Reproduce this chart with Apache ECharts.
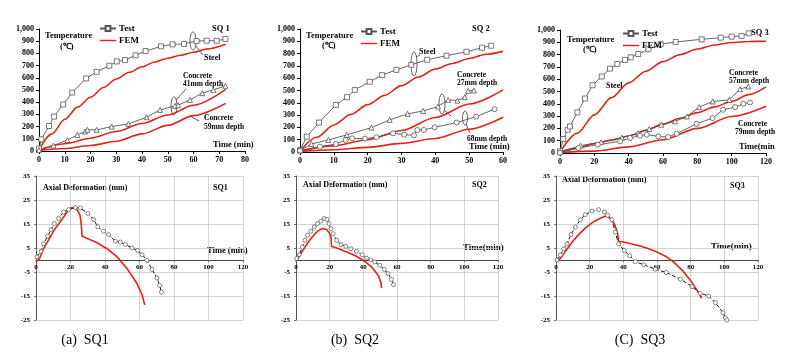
<!DOCTYPE html>
<html>
<head>
<meta charset="utf-8">
<script src="https://cdn.jsdelivr.net/npm/echarts@6/dist/echarts.min.js"></script>
<style>
  html, body { margin: 0; padding: 0; background: #fff; }
  #chart { width: 800px; height: 354px; }
</style>
</head>
<body>
<div id="chart"></div>
<script>
// ---- temperature curves, [time (min), temperature (C)] ----
var sq1SteelTest = [[0,20],[0.9,96],[3.9,205],[5.8,282],[9.4,381],[12.9,479],[18.3,595],[22.4,649],[27.3,699],[30.2,734],[33.4,745],[37.5,784],[41.4,819],[47.4,858],[51.9,874],[56.3,878],[61.2,901],[65.1,904],[69,904],[72.4,918]];
var sq1SteelFem = [[0,10],[5,140],[10,260],[15,360],[20,440],[25,520],[30,590],[35,645],[40,690],[45,730],[50,760],[55,785],[60,810],[65,835],[72.5,875]];
var sq1C41Test = [[0,8],[5.6,44],[11,90],[14.9,132],[17.9,159],[18.8,173],[22.4,173],[28.2,200],[34.7,222],[41.8,277],[47,337],[52.8,370],[54,375],[58.6,419],[63.4,474],[67.7,501],[72.4,534]];
var sq1C41Fem = [[0,10],[10,60],[20,105],[30,160],[40,225],[50,295],[60,375],[72.5,505]];
var sq1C59Fem = [[0,5],[10,20],[20,45],[30,80],[40,140],[50,210],[60,290],[72.5,390]];

var sq2SteelTest = [[0,16],[2,125],[5.6,239],[10.6,383],[13.9,446],[16.2,505],[20.6,571],[24.3,625],[28.5,668],[32.9,709],[37.6,750],[43.3,783],[49.2,815],[53.8,848],[56.5,864]];
var sq2SteelFem = [[0,10],[5,120],[10,220],[15,305],[20,385],[25,460],[30,540],[35,610],[40,675],[45,720],[50,760],[55,795],[60,818]];
var sq2C27Test = [[0,11],[3.4,65],[8.4,98],[13.8,139],[21.1,198],[26.5,261],[31.8,310],[36.4,334],[40.8,370],[43.8,424],[46.5,418],[48.7,446],[49.7,497],[51.4,500]];
var sq2C27Fem = [[0,8],[10,50],[20,100],[30,175],[40,280],[50,390],[60,505]];
var sq2C68Test = [[0,11],[5.9,43],[10.6,65],[13.5,98],[15.4,111],[19.2,109],[22.6,120],[27.5,152],[30.8,141],[33.7,136],[34.7,179],[36.6,179],[39.8,201],[46.3,239],[52.1,288],[57.5,348]];
var sq2C68Fem = [[0,5],[10,18],[20,38],[30,70],[40,110],[50,185],[60,283]];

var sq3SteelTest = [[0,14],[1.9,114],[4.5,189],[5.8,216],[10.1,330],[14.6,443],[19,551],[24.3,622],[29.1,686],[33.4,724],[37.9,757],[41.2,778],[45.6,805],[51.5,843],[58.6,884],[67.4,903],[82.5,924],[93.6,938],[100,946],[105.8,951],[109.9,973]];
var sq3SteelFem = [[0,10],[10,160],[20,310],[30,450],[40,570],[50,665],[60,743],[70,800],[80,846],[90,878],[100,898],[110,907],[120,908]];
var sq3C57Test = [[0,5],[12,60],[24,88],[36,125],[45.6,162],[52,195],[59,230],[67,257],[74,297],[81,373],[89,419],[98.6,432],[104.9,519],[109.7,541]];
var sq3C57Fem = [[0,8],[10,40],[20,76],[30,105],[40,138],[50,185],[60,235],[70,282],[80,328],[90,375],[100,420],[110,475],[120,537]];
var sq3C79Test = [[0,3],[10.7,40],[22,68],[35,95],[40.8,122],[46.6,141],[50.5,149],[57.3,135],[63,130],[68,157],[79.6,238],[88.9,284],[95,351],[102,373],[106.8,400],[110.7,411]];
var sq3C79Fem = [[0,3],[20,15],[40,50],[60,108],[80,200],[100,297],[120,380]];

// ---- axial deformation curves, [time (min), deformation (mm)] ----
var sq1DefTest = [[0.6,1.3],[2.9,3.6],[4.4,6.8],[6.8,10],[8.7,12.6],[10.6,15.2],[13.1,17.3],[16,20],[18.9,21],[22.8,21.9],[25.7,21.7],[30,19.4],[33.4,16.9],[35.8,13.8],[39.2,12],[42.1,10.6],[46,7.8],[48.9,7.5],[51.8,6.5],[55.7,5],[58.9,4],[61.5,2.2],[64.3,-0.1],[67.2,-3.9],[70.1,-7.5],[71.7,-10.6],[72.7,-13.4]];
var sq1DefFem = [[0,-0.8],[2,0.5],[4.4,4.7],[8.3,9.6],[11,13],[14.1,15.9],[18,20],[20.3,21.7],[22.5,21.8],[24,20.8],[25.5,18.7],[26.3,14.5],[26.7,9.9],[30,8.9],[35.4,7.2],[41.2,4.7],[47,1.3],[52.8,-3.6],[58.6,-9.9],[61.5,-14.5],[63,-18.7]];
var sq2DefTest = [[0.4,0.6],[2,2.2],[3.8,5.4],[5.3,8.2],[6.9,10.3],[8.9,12],[10.9,13.8],[12.8,15.2],[14.8,16.2],[16.8,17.3],[18.4,16.9],[19.6,15.2],[20.8,13.1],[22.1,11],[24.1,8.2],[26.7,6.4],[29.6,5.7],[32.6,4.7],[35.9,3.6],[39.3,2.2],[41.9,0.8],[44.5,0.1],[46.8,-0.8],[49.8,-2.2],[52.4,-3.9],[54.7,-5.7],[56.7,-8.1],[57.9,-10.3]];
var sq2DefFem = [[0,-0.8],[1.8,1.3],[4.5,4.5],[7.3,7.5],[11.3,11],[14,12.6],[16.2,13.1],[18.2,12.7],[19.8,11.2],[20.8,9.6],[21.1,5.7],[25,4.8],[29,3.6],[35,1.9],[39.9,-0.1],[44.9,-2.9],[48.8,-6.4],[50.5,-9.5],[50.8,-11.7]];
var sq3DefTest = [[0.6,0],[2.6,2.1],[4.6,4.6],[6.5,6.7],[8.9,10.6],[11.5,13.7],[14.5,16.8],[17.4,18.9],[21.4,20.4],[25.3,21],[28.7,20],[30.7,18.6],[33.3,16.8],[35.2,11.6],[37.2,6.7],[40.6,3.9],[43.8,1.8],[47.1,-0.7],[52.1,-2],[59,-3.8],[65.5,-5.2],[73.9,-8],[80.8,-11.1],[85.7,-13.9],[90.7,-15],[94.7,-17.8],[99.2,-22],[100.6,-24.1],[101.5,-25]];
var sq3DefFem = [[0,-1],[3,1],[6,4],[10,7.8],[14,11],[18,13.7],[22,15.8],[26,17.3],[29,18.2],[31,18.1],[33,17],[35,14.5],[36.5,11.5],[37.2,7.8],[40,7.5],[45,6.7],[50,5.8],[55,4.7],[60,3.3],[65,1.6],[70,-0.9],[75,-4.3],[80,-8.6],[83,-11.8],[85.5,-14.5],[86.5,-16]];

// tick labels
var tempTicks = [0,100,200,300,400,500,600,700,800,900,1000];
var defTicks = [-25,-15,-5,5,15,25,35];

var FONT = 'Liberation Serif';
var RED = '#e2231a';

function txt(x, y, s, size, weight, align) {
    return {
        type: 'text', x: x, y: y, silent: true,
        style: { text: s, fill: '#000', align: align || 'left', verticalAlign: 'middle',
                 font: (weight || 'bold') + ' ' + (size || 8) + 'px "' + FONT + '"' }
    };
}
function ell(cx, cy, rx, ry) {
    return { type: 'ellipse', silent: true, shape: { cx: cx, cy: cy, rx: rx, ry: ry },
             style: { fill: 'none', stroke: '#333', lineWidth: 0.8 } };
}
function seg(x1, y1, x2, y2) {
    return { type: 'line', silent: true, shape: { x1: x1, y1: y1, x2: x2, y2: y2 },
             style: { stroke: '#333', lineWidth: 0.8 } };
}

function testLine(name, data, symbol, idx) {
    return {
        name: name, type: 'line', data: data, xAxisIndex: idx, yAxisIndex: idx,
        symbol: symbol, symbolSize: 5, showAllSymbol: true,
        lineStyle: { color: '#555', width: 0.9 },
        itemStyle: { color: '#fff', borderColor: '#555', borderWidth: 0.8 },
        z: 3
    };
}
function femLine(name, data, idx) {
    return {
        name: name, type: 'line', data: data, xAxisIndex: idx, yAxisIndex: idx,
        symbol: 'none', smooth: 0.3, smoothMonotone: 'x',
        lineStyle: { color: RED, width: 1.6 }, itemStyle: { color: RED }, z: 2
    };
}
function defTest(name, data, idx) {
    return {
        name: name, type: 'line', data: data, xAxisIndex: idx, yAxisIndex: idx,
        symbol: 'circle', symbolSize: 4, showAllSymbol: true,
        lineStyle: { color: '#111', width: 1, type: [4, 2] },
        itemStyle: { color: '#fff', borderColor: '#666', borderWidth: 0.8 }, z: 3
    };
}
function defFem(name, data, idx) {
    return {
        name: name, type: 'line', data: data, xAxisIndex: idx, yAxisIndex: idx,
        symbol: 'none', lineStyle: { color: RED, width: 1.6 }, itemStyle: { color: RED }, z: 2
    };
}

var labelStyle = { fontFamily: FONT, fontWeight: 'bold', fontSize: 8, color: '#000' };

var grids = [
    { left: 39, top: 29, width: 206, height: 122 },
    { left: 300, top: 29, width: 203, height: 123 },
    { left: 560, top: 30, width: 206, height: 123 },
    { left: 36, top: 176, width: 207, height: 144 },
    { left: 296, top: 176, width: 202, height: 144 },
    { left: 556, top: 176, width: 202, height: 144 }
];
grids.forEach(function (g) { g.outerBoundsMode = 'none'; g.containLabel = false; });

var topMax = [80, 60, 120];
var topInt = [10, 10, 20];

var xAxes = [];
var yAxes = [];
for (var i = 0; i < 3; i++) {
    xAxes.push({
        type: 'value', gridIndex: i, min: 0, max: topMax[i], interval: topInt[i],
        axisLine: { show: true, onZero: false, lineStyle: { color: '#000', width: 1 } },
        axisTick: { show: true, length: 3, lineStyle: { color: '#000' } },
        axisLabel: Object.assign({ margin: 5 }, labelStyle),
        splitLine: { show: false }
    });
    yAxes.push({
        type: 'value', gridIndex: i, min: 0, max: 1000, interval: 100,
        axisLine: { show: true, lineStyle: { color: '#000', width: 1 } },
        axisTick: { show: true, length: 3, lineStyle: { color: '#000' } },
        axisLabel: Object.assign({ margin: 5, customValues: tempTicks,
            formatter: function (v) { return v.toLocaleString('en-US'); } }, labelStyle),
        splitLine: { show: false }
    });
}
// deformation x axes: the axis line and labels sit on the 0 mm level
// (35 of the 60 mm range below the top -> 60 px above the grid bottom)
for (var j = 0; j < 3; j++) {
    xAxes.push({
        type: 'value', gridIndex: 3 + j, min: 0, max: 120, interval: 20,
        position: 'bottom', offset: -60,
        axisLine: { show: true, onZero: false, lineStyle: { color: '#444', width: 1 } },
        axisTick: { show: true, length: 2, lineStyle: { color: '#666' } },
        axisLabel: Object.assign({ margin: 4 }, labelStyle, { fontSize: 7 }),
        splitLine: { show: true, lineStyle: { color: '#c8c8c8', width: 0.8 } }
    });
}
for (var k = 0; k < 3; k++) {
    yAxes.push({
        type: 'value', gridIndex: 3 + k, min: -25, max: 35,
        axisLine: { show: true, onZero: false, lineStyle: { color: '#555', width: 1 } },
        axisTick: { show: true, length: 2, customValues: defTicks, lineStyle: { color: '#777' } },
        axisLabel: Object.assign({ margin: 6, customValues: defTicks }, labelStyle, { fontSize: 7 }),
        splitLine: { show: false }
    });
}
// helper axes that only carry the horizontal grid lines (every 10 mm from -25)
for (var m = 0; m < 3; m++) {
    yAxes.push({
        type: 'value', gridIndex: 3 + m, min: 0, max: 60, interval: 10, position: 'right',
        axisLine: { show: false }, axisTick: { show: false }, axisLabel: { show: false },
        splitLine: { show: true, lineStyle: { color: '#c8c8c8', width: 0.8 } }
    });
}

var series = [
    testLine('Test', sq1SteelTest, 'rect', 0),
    femLine('FEM', sq1SteelFem, 0),
    testLine('SQ1 41mm test', sq1C41Test, 'triangle', 0),
    femLine('SQ1 41mm FEM', sq1C41Fem, 0),
    femLine('SQ1 59mm FEM', sq1C59Fem, 0),

    testLine('Test', sq2SteelTest, 'rect', 1),
    femLine('FEM', sq2SteelFem, 1),
    testLine('SQ2 27mm test', sq2C27Test, 'triangle', 1),
    femLine('SQ2 27mm FEM', sq2C27Fem, 1),
    testLine('SQ2 68mm test', sq2C68Test, 'circle', 1),
    femLine('SQ2 68mm FEM', sq2C68Fem, 1),

    testLine('Test', sq3SteelTest, 'rect', 2),
    femLine('FEM', sq3SteelFem, 2),
    testLine('SQ3 57mm test', sq3C57Test, 'triangle', 2),
    femLine('SQ3 57mm FEM', sq3C57Fem, 2),
    testLine('SQ3 79mm test', sq3C79Test, 'circle', 2),
    femLine('SQ3 79mm FEM', sq3C79Fem, 2),

    defTest('SQ1 def test', sq1DefTest, 3),
    defFem('SQ1 def FEM', sq1DefFem, 3),
    defTest('SQ2 def test', sq2DefTest, 4),
    defFem('SQ2 def FEM', sq2DefFem, 4),
    defTest('SQ3 def test', sq3DefTest, 5),
    defFem('SQ3 def FEM', sq3DefFem, 5)
];

function legendAt(left, top) {
    return {
        data: ['Test', { name: 'FEM', icon: 'path://M0,0L20,0L20,1.8L0,1.8Z' }],
        left: left, top: top, orient: 'vertical',
        itemWidth: 16, itemHeight: 6, itemGap: 3, padding: 0, selectedMode: false,
        textStyle: { fontFamily: FONT, fontWeight: 'bold', fontSize: 9, color: '#000', padding: [0, 0, 0, -2] }
    };
}

var graphics = [
    // SQ1 temperature
    txt(45, 36, 'Temperature', 8.5), txt(60, 47, '(\u2103)', 8.5),
    txt(212, 29, 'SQ 1', 8.5), txt(204, 58, 'Steel', 8),
    txt(183, 76, 'Concrete', 7.5), txt(183, 84, '41mm depth', 7.5),
    txt(204, 118, 'Concrete', 7.5), txt(204, 127, '59mm depth', 7.5),
    txt(213, 145, 'Time (min)', 8.5),
    ell(193, 41, 3, 9), seg(196, 46, 203, 55),
    ell(174, 106, 3, 9), seg(176, 100, 186, 89),
    seg(199, 121, 190, 116),
    // SQ2 temperature
    txt(306, 36, 'Temperature', 8.5), txt(322, 46, '(\u2103)', 8.5),
    txt(472, 29, 'SQ 2', 8.5), txt(419, 52, 'Steel', 8),
    txt(457, 75, 'Concrete', 7.5), txt(457, 83, '27mm depth', 7.5),
    txt(467, 139, '68mm depth', 7.5), txt(469, 147, 'Time (min)', 8.5),
    ell(414, 64, 3, 12), seg(416, 57, 420, 55),
    ell(442, 104, 3, 10), seg(444, 110, 451, 116),
    ell(465, 118, 2.5, 7), seg(466, 124, 470, 133),
    // SQ3 temperature
    txt(567, 40, 'Temperature', 8.5), txt(583, 50, '(\u2103)', 8.5),
    txt(751, 33, 'SQ 3', 8.5), txt(606, 86, 'Steel', 8),
    txt(729, 73, 'Concrete', 7.5), txt(729, 81, '57mm depth', 7.5),
    txt(738, 124, 'Concrete', 7.5), txt(735, 132, '79mm depth', 7.5),
    txt(739, 147, 'Time(min', 8.5),
    // deformation panels
    txt(43, 188, 'Axial Deformation (mm)', 8), txt(213, 188, 'SQ1', 8),
    txt(207, 251, 'Time (min)', 8.5),
    txt(303, 185, 'Axial Deformation (mm)', 8), txt(472, 185, 'SQ2', 8),
    txt(463, 248, 'Time(min)', 9),
    txt(562, 180, 'Axial Deformation (mm)', 8), txt(730, 186, 'SQ3', 8),
    txt(711, 247, 'Time(min)', 9),
    // captions
    txt(85, 340, '(a)  SQ1', 14, 'normal', 'center'),
    txt(355, 340, '(b)  SQ2', 14, 'normal', 'center'),
    txt(640, 340, '(C)  SQ3', 14, 'normal', 'center')
];

var chart = echarts.init(document.getElementById('chart'), null, { renderer: 'canvas' });
chart.setOption({
    animation: false,
    backgroundColor: '#fff',
    grid: grids,
    xAxis: xAxes,
    yAxis: yAxes,
    legend: [legendAt(99, 24), legendAt(360, 27), legendAt(622, 29)],
    series: series,
    graphic: graphics
});
</script>
</body>
</html>
